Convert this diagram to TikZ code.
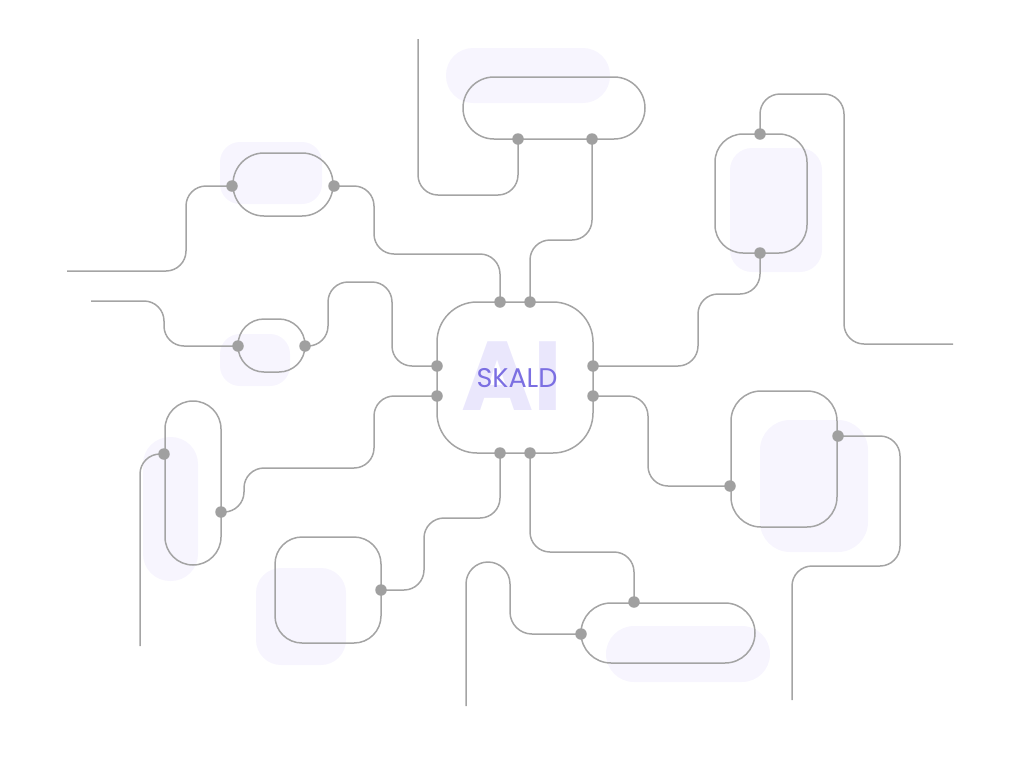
\documentclass[tikz,border=0pt]{standalone}
\usepackage{fontspec}
\newfontfamily\pop{Poppins}
\definecolor{wire}{HTML}{A4A4A4}
\definecolor{dotc}{HTML}{A0A0A0}
\definecolor{glow}{HTML}{F7F5FE}
\definecolor{aiwm}{HTML}{EAE7FC}
\definecolor{brand}{HTML}{7B6FE2}
\begin{document}
\begin{tikzpicture}[x=1pt,y=-1pt,
  wire/.style={draw=wire,line width=1.5pt,rounded corners=20pt},
  shell/.style={draw=wire,line width=1.5pt},
  glowbox/.style={fill=glow},
  dot/.style={circle,fill=dotc,inner sep=0pt,minimum size=11.5pt}]
\useasboundingbox (0,0) rectangle (1026,764);
% background glows
\fill[glowbox,rounded corners=20pt] (220,142) rectangle (322,204);
\fill[glowbox,rounded corners=20pt] (220,334) rectangle (290,386);
\fill[glowbox,rounded corners=27pt] (143,437) rectangle (198,581);
\fill[glowbox,rounded corners=25pt] (256,568) rectangle (346,665);
\fill[glowbox,rounded corners=28pt] (606,626) rectangle (770,682);
\fill[glowbox,rounded corners=30pt] (760,420) rectangle (868,552);
\fill[glowbox,rounded corners=22pt] (730,148) rectangle (822,272);
\fill[glowbox,rounded corners=27pt] (446,48) rectangle (610,103);
% center box
\node[inner sep=0pt,text=aiwm] (ai) at (512,376) {\pop\bfseries\fontsize{98}{98}\selectfont AI};
\draw[shell,rounded corners=40pt] (437,302) rectangle (593,453);
\node[inner sep=0pt,text=brand] (skald) at (517,378.5) {\pop\fontsize{27}{27}\selectfont SKALD};
% shells
\draw[shell,rounded corners=31pt] (233,153) rectangle (333,216);
\draw[shell,rounded corners=26pt] (238,319) rectangle (305,372);
\draw[shell,rounded corners=28pt] (165,401) rectangle (221,565);
\draw[shell,rounded corners=27pt] (275,537) rectangle (381,643);
\draw[shell,rounded corners=30pt] (581,603) rectangle (755,663);
\draw[shell,rounded corners=30pt] (731,391) rectangle (837,527);
\draw[shell,rounded corners=28pt] (715,134) rectangle (807,253);
\draw[shell,rounded corners=31pt] (463,77) rectangle (645,139);
% ports
\coordinate (ct1) at (500,302); \coordinate (ct2) at (530,302);
\coordinate (cb1) at (500,453); \coordinate (cb2) at (530,453);
\coordinate (cl1) at (437,366); \coordinate (cl2) at (437,396);
\coordinate (cr1) at (593,366); \coordinate (cr2) at (593,396);
\coordinate (p1a) at (232,186); \coordinate (p1b) at (334,186);
\coordinate (p2a) at (238,346); \coordinate (p2b) at (305,346);
\coordinate (p3a) at (164,454); \coordinate (p3b) at (221,512);
\coordinate (p4a) at (381,590);
\coordinate (p5a) at (634,602); \coordinate (p5b) at (581,634);
\coordinate (p6a) at (730,486); \coordinate (p6b) at (838,436);
\coordinate (p7a) at (760,134); \coordinate (p7b) at (760,253);
\coordinate (p8a) at (518,139); \coordinate (p8b) at (592,139);
% free ends
\coordinate (e1) at (67,271); \coordinate (e2) at (91,301);
\coordinate (e3) at (140,646); \coordinate (e4) at (466,706);
\coordinate (e5) at (792,700); \coordinate (e6) at (953,344);
\coordinate (e7) at (418,39);
% wires
\draw[wire] (e1) -- (186,271) -- (186,186) -- (p1a);
\draw[wire] (p1b) -- (374,186) -- (374,254) -- (500,254) -- (ct1);
\draw[wire] (e2) -- (164,301) -- (164,346) -- (p2a);
\draw[wire] (p2b) -- (328,346) -- (328,282) -- (392,282) -- (392,366) -- (cl1);
\draw[wire] (e3) -- (140,454) -- (p3a);
\draw[wire] (p3b) -- (244,512) -- (244,468) -- (374,468) -- (374,396) -- (cl2);
\draw[wire] (p4a) -- (424,590) -- (424,518) -- (500,518) -- (cb1);
\draw[wire] (cb2) -- (530,552) -- (634,552) -- (p5a);
\draw[wire,rounded corners=22pt] (e4) -- (466,562) -- (510,562) -- (510,634) -- (p5b);
\draw[wire] (cr2) -- (648,396) -- (648,486) -- (p6a);
\draw[wire] (p6b) -- (900,436) -- (900,566) -- (792,566) -- (e5);
\draw[wire] (p7a) -- (760,94) -- (844,94) -- (844,344) -- (e6);
\draw[wire] (p7b) -- (760,294) -- (698,294) -- (698,366) -- (cr1);
\draw[wire] (e7) -- (418,195) -- (518,195) -- (p8a);
\draw[wire] (p8b) -- (592,240) -- (530,240) -- (ct2);
% dots
\foreach \p in {ct1,ct2,cb1,cb2,cl1,cl2,cr1,cr2,p1a,p1b,p2a,p2b,p3a,p3b,p4a,p5a,p5b,p6a,p6b,p7a,p7b,p8a,p8b}
  \node[dot] at (\p) {};
\end{tikzpicture}
\end{document}
